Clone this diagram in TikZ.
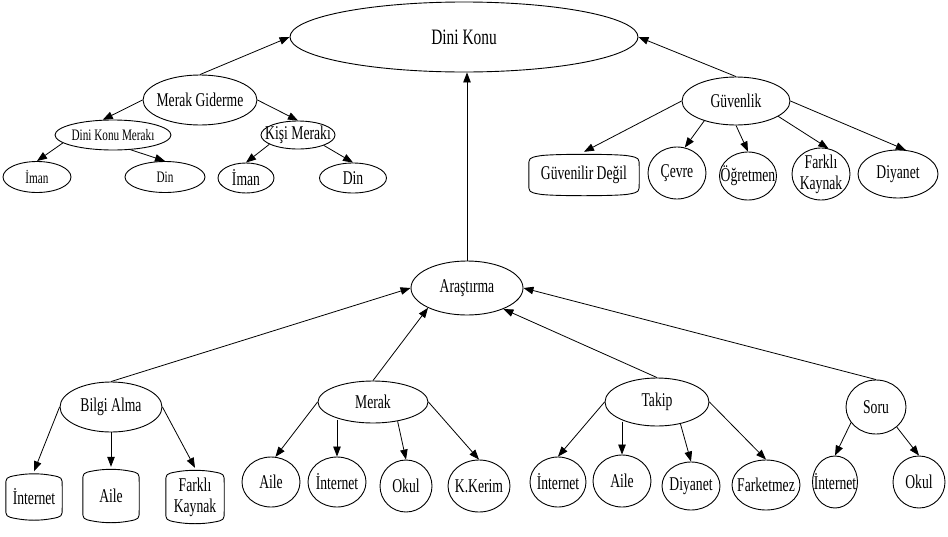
\documentclass[tikz,border=0pt]{standalone}
\usepackage{fontspec}
\setmainfont[FakeStretch=0.7]{Liberation Serif}
\usetikzlibrary{shapes.geometric,arrows.meta}
\tikzset{
  oval/.style={ellipse, draw, line width=0.9pt, inner sep=0pt},
  tabn/.style={rectangle, inner sep=0pt, align=center},
  shapeline/.style={line width=0.9pt},
  arr/.style={-{Triangle[length=10pt,width=7.5pt]}, line width=0.8pt},
  small/.style={font=\fontsize{16}{17}\selectfont},
  big/.style={font=\fontsize{22}{23}\selectfont},
  two/.style={align=center}
}
\newcommand\enode[6][]{\node[oval, minimum width=#4pt, minimum height=#5pt, label={[#1]center:#6}] (#2) at (#3) {};}
\newcommand\tabdraw[1]{\draw[shapeline]
  ([yshift=-15pt]#1.north west) .. controls ([yshift=-6pt]#1.north west) .. ([shift={(11pt,-4pt)}]#1.north west)
  .. controls ([shift={(22pt,-2pt)}]#1.north west) and ([shift={(-22pt,-2pt)}]#1.north east) .. ([shift={(-11pt,-4pt)}]#1.north east)
  .. controls ([yshift=-6pt]#1.north east) .. ([yshift=-15pt]#1.north east)
  -- ([yshift=15pt]#1.south east)
  .. controls ([yshift=6pt]#1.south east) .. ([shift={(-11pt,4pt)}]#1.south east)
  .. controls ([shift={(-22pt,2pt)}]#1.south east) and ([shift={(22pt,2pt)}]#1.south west) .. ([shift={(11pt,4pt)}]#1.south west)
  .. controls ([yshift=6pt]#1.south west) .. ([yshift=15pt]#1.south west) -- cycle;}
\begin{document}
\begin{tikzpicture}[x=1pt,y=-1pt,font=\fontsize{19.5}{21}\selectfont]
\fill[white] (0,0) rectangle (948,536);
\useasboundingbox (0,0) rectangle (948,536);
% top
\enode[big]{dk}{464,37}{348}{70}{Dini Konu}
\enode{mg}{200,100}{114}{50}{Merak Giderme}
\enode[small]{dkm}{113,135}{116}{30}{Dini Konu Merakı}
\enode{km}{298,135}{74}{28}{Kişi Merakı}
\enode[small]{imA}{37,177}{68}{31}{İman}
\enode[small]{dinA}{165,177}{80}{31}{Din}
\enode{imB}{246,178}{56}{30}{İman}
\enode{dinB}{353,178}{67}{30}{Din}
\enode{gv}{736,101}{108}{48}{Güvenlik}
\node[tabn, minimum width=110pt, minimum height=46pt] (gd) at (584,175) {Güvenilir Değil};
\tabdraw{gd}
\enode{cv}{677,173}{58}{52}{Çevre}
\enode{og}{748,176}{57}{48}{Öğretmen}
\enode[two]{fk}{821,174}{58}{52}{Farklı\\Kaynak}
\enode{dy}{898,174}{80}{48}{Diyanet}
% middle
\enode{ar}{467,288}{112}{54}{Araştırma}
\enode{ba}{111,407}{102}{50}{Bilgi Alma}
\enode{mk}{373,402}{110}{42}{Merak}
\enode{tk}{657,402}{104}{48}{Takip}
\enode{so}{876,407}{60}{54}{Soru}
% bottom
\node[tabn, minimum width=56pt, minimum height=51pt] (intA) at (34,497) {İnternet};
\tabdraw{intA}
\node[tabn, minimum width=56pt, minimum height=58pt] (aiA) at (111,496) {Aile};
\tabdraw{aiA}
\node[tabn, minimum width=58pt, minimum height=58pt] (fkA) at (195,497) {Farklı\\Kaynak};
\tabdraw{fkA}
\enode{aiB}{271,482}{58}{50}{Aile}
\enode{intB}{337,482}{58}{50}{İnternet}
\enode{okB}{406,486}{52}{52}{Okul}
\enode{kk}{479,486}{62}{52}{K.Kerim}
\enode{intC}{558,482}{56}{50}{İnternet}
\enode{aiC}{622,481}{58}{52}{Aile}
\enode{dyC}{691,486}{58}{48}{Diyanet}
\enode{fm}{766,485}{68}{50}{Farketmez}
\enode{intD}{835,482}{45}{52}{İnternet}
\enode{okD}{919,482}{52}{52}{Okul}
% edges
\draw[arr] (mg.north) -- (dk.west);
\draw[arr] (gv.north) -- (dk.east);
\draw[arr] (ar.north) -- (ar.north |- dk.south);
\draw[arr] (mg.west) -- (dkm.124);
\draw[arr] (mg.east) -- (km.north);
\draw[arr] (dkm.189) -- (imA.north);
\draw[arr] (dkm.320) -- (dinA.north);
\draw[arr] (km.198) -- (imB.north);
\draw[arr] (km.338) -- (dinB.north);
\draw[arr] (gv.west) -- (gd.north);
\draw[arr] (gv.212) -- (cv.73);
\draw[arr] (gv.south) -- (og.north);
\draw[arr] (gv.340) -- (fk.74);
\draw[arr] (gv.east) -- (dy.72);
\draw[arr] (ba.north) -- (ar.west);
\draw[arr] (mk.north) -- (ar.207);
\draw[arr] (tk.north) -- (ar.330);
\draw[arr] (so.north) -- (ar.east);
\draw[arr] (ba.west) -- (intA.north);
\draw[arr] (ba.south) -- (aiA.north);
\draw[arr] (ba.east) -- (fkA.north);
\draw[arr] (mk.west) -- (aiB.80);
\draw[arr] (intB.north |- mk.210) -- (intB.north);
\draw[arr] (mk.322) -- (okB.north);
\draw[arr] (mk.east) -- (kk.north);
\draw[arr] (tk.west) -- (intC.north);
\draw[arr] (aiC.north |- tk.212) -- (aiC.north);
\draw[arr] (tk.317) -- (dyC.north);
\draw[arr] (tk.east) -- (fm.north);
\draw[arr] (so.212) -- (intD.north);
\draw[arr] (so.316) -- (okD.north);
\end{tikzpicture}
\end{document}
